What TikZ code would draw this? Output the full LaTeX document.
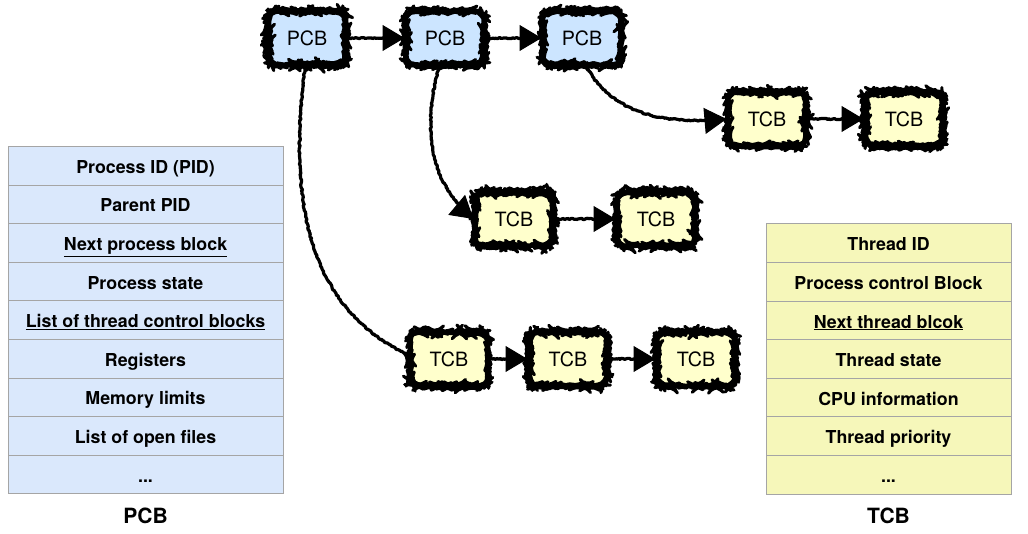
\documentclass[tikz,border=0pt]{standalone}
\usepackage{fontspec}
\setmainfont{TeX Gyre Heros}
\usepackage{tikz}
\usetikzlibrary{arrows.meta}
\usetikzlibrary{positioning}
\usetikzlibrary{decorations.pathmorphing}
\usetikzlibrary{decorations.markings}
\definecolor{pcbfill}{RGB}{204,229,255}
\definecolor{tcbfill}{RGB}{255,255,204}
\definecolor{pcbrowfill}{RGB}{218,232,252}
\definecolor{tcbrowfill}{RGB}{246,247,186}
\definecolor{rowline}{RGB}{165,165,165}

\begin{document}
\begin{tikzpicture}[x=1pt,y=1pt,
  sketch/.style={decorate,decoration={random steps,segment length=1.5pt,amplitude=0.6pt}},
  blk/.style={draw,sketch,line width=3pt,line join=round,rounded corners=9pt,minimum width=78pt,minimum height=54pt,inner sep=0pt,font=\fontsize{19.7}{22}\selectfont},
  pcb/.style={blk,fill=pcbfill},
  tcb/.style={blk,fill=tcbfill},
  arr/.style={line width=1pt,
    preaction={draw,line width=3.2pt,line join=round,decorate,decoration={random steps,segment length=1.5pt,amplitude=0.7pt}},
    postaction={decorate,decoration={markings,mark=at position 1 with {\arrow[line width=1pt]{Triangle[length=22pt,width=26pt]}}}}},
  pcbrow/.style={draw=rowline,line width=1pt,fill=pcbrowfill,outer sep=0pt,minimum width=275pt,minimum height=38.6pt,inner sep=0pt,text height=19pt,text depth=3.8pt,font=\bfseries\fontsize{17.8}{20}\selectfont},
  tcbrow/.style={pcbrow,fill=tcbrowfill,minimum width=245pt},
  title/.style={font=\bfseries\fontsize{21}{24}\selectfont}]
  \pgfmathsetseed{11}
  \useasboundingbox (0,0) rectangle (1028,534);

  % process blocks
  \node[pcb] (p1) at (307,496) {PCB};
  \node[pcb,right=57pt of p1] (p2) {PCB};
  \node[pcb,right=56pt of p2] (p3) {PCB};

  % thread blocks
  \node[tcb] (t11) at (767,415) {TCB};
  \node[tcb,right=56pt of t11] (t12) {TCB};
  \node[tcb] (t21) at (514,315) {TCB};
  \node[tcb,right=61pt of t21] (t22) {TCB};
  \node[tcb] (t31) at (449,175) {TCB};
  \node[tcb,right=38pt of t31] (t32) {TCB};
  \node[tcb,right=47pt of t32] (t33) {TCB};

  \draw[arr](p1)--(p2);
  \draw[arr](p2)--(p3);
  \draw[arr](t11)--(t12);
  \draw[arr](t21)--(t22);
  \draw[arr](t31)--(t32);
  \draw[arr](t32)--(t33);
  \draw[arr]([xshift=-2pt]p1.south) to[out=-97,in=155] ([yshift=4pt]t31.west);
  \draw[arr]([xshift=-6pt]p2.south) to[out=-105,in=140] (t21.west);
  \draw[arr]([xshift=4pt]p3.south) to[out=-60,in=185] (t11.west);

  % PCB fields
  \node[pcbrow] (f1) at (145.5,368.2) {Process ID (PID)};
  \node[pcbrow,below=0pt of f1] (f2) {Parent PID};
  \node[pcbrow,below=0pt of f2] (f3) {\underline{Next process block}};
  \node[pcbrow,below=0pt of f3] (f4) {Process state};
  \node[pcbrow,below=0pt of f4] (f5) {\underline{List of thread control blocks}};
  \node[pcbrow,below=0pt of f5] (f6) {Registers};
  \node[pcbrow,below=0pt of f6] (f7) {Memory limits};
  \node[pcbrow,below=0pt of f7] (f8) {List of open files};
  \node[pcbrow,below=0pt of f8] (f9) {...};
  \node[title] (pcbname) at (145.5,18) {PCB};

  % TCB fields
  \node[tcbrow] (g1) at (888.5,290.7) {Thread ID};
  \node[tcbrow,below=0pt of g1] (g2) {Process control Block};
  \node[tcbrow,below=0pt of g2] (g3) {\underline{Next thread blcok}};
  \node[tcbrow,below=0pt of g3] (g4) {Thread state};
  \node[tcbrow,below=0pt of g4] (g5) {CPU information};
  \node[tcbrow,below=0pt of g5] (g6) {Thread priority};
  \node[tcbrow,below=0pt of g6] (g7) {...};
  \node[title] (tcbname) at (888.5,18) {TCB};
\end{tikzpicture}
\end{document}
